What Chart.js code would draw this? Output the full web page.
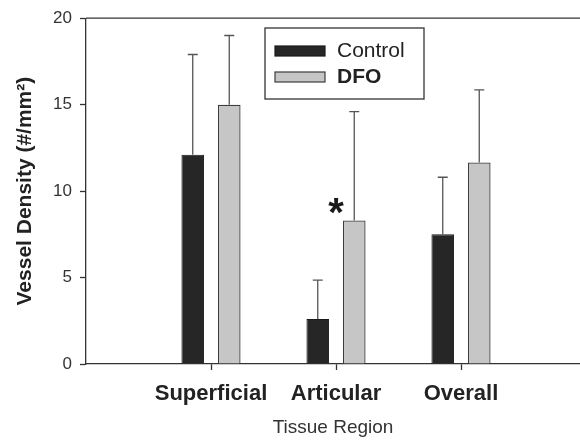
<!DOCTYPE html>
<html><head><meta charset="utf-8">
<script src="https://cdn.jsdelivr.net/npm/chart.js@4.4.1/dist/chart.umd.min.js"></script>
<style>html,body{margin:0;padding:0;background:#fff}</style>
</head><body>
<canvas id="c" width="580" height="440"></canvas>
<script>
// ---- data ----
const categories = ['Superficial', 'Articular', 'Overall'];
const seriesNames = ['Control', 'DFO'];
const controlMean = [12.1, 2.6, 7.5];
const controlSD = [5.8, 2.25, 3.3];
const dfoMean = [15.0, 8.3, 11.65];
const dfoSD = [4.0, 6.3, 4.2];
const yTicks = [0, 5, 10, 15, 20];
const significance = [{ category: 'Articular', value: 9.3, text: '*' }];

// ---- build ----
const positions = categories.map((c, i) => i + 1);
const toPoints = arr => arr.map((v, i) => ({ x: positions[i], y: v }));
const FONT = 'Liberation Sans, Arial, Helvetica, sans-serif';
const AXIS = '#333333';
Chart.defaults.font.family = FONT;
Chart.defaults.color = '#2a2a2a';

const errorBars = {
  id: 'errorBars',
  afterDatasetsDraw(chart) {
    const ctx = chart.ctx, y = chart.scales.y;
    const sds = [controlSD, dfoSD];
    ctx.save();
    ctx.strokeStyle = '#555555';
    ctx.lineWidth = 1.3;
    chart.data.datasets.forEach((ds, di) => {
      const meta = chart.getDatasetMeta(di);
      meta.data.forEach((bar, i) => {
        const v = ds.data[i].y;
        const top = y.getPixelForValue(v + sds[di][i]);
        ctx.beginPath();
        ctx.moveTo(bar.x, bar.y);
        ctx.lineTo(bar.x, top);
        ctx.moveTo(bar.x - 5, top);
        ctx.lineTo(bar.x + 5, top);
        ctx.stroke();
      });
    });
    ctx.fillStyle = '#1a1a1a';
    ctx.font = 'bold 40px ' + FONT;
    ctx.textAlign = 'center';
    ctx.textBaseline = 'alphabetic';
    significance.forEach(s => {
      const x = chart.scales.x.getPixelForValue(positions[categories.indexOf(s.category)]);
      const yy = y.getPixelForValue(s.value);
      ctx.fillText(s.text, x, yy + 0.57 * 40);
    });
    ctx.restore();
  }
};

const frameAndLegend = {
  id: 'frameAndLegend',
  afterDraw(chart) {
    const ctx = chart.ctx, a = chart.chartArea;
    ctx.save();
    ctx.strokeStyle = AXIS;
    ctx.lineWidth = 1.3;
    ctx.beginPath();
    ctx.moveTo(a.left, a.top);
    ctx.lineTo(a.right, a.top);
    ctx.stroke();
    const bx = 265, by = 28, bw = 159, bh = 71;
    ctx.fillStyle = '#ffffff';
    ctx.fillRect(bx, by, bw, bh);
    ctx.strokeRect(bx, by, bw, bh);
    const weights = ['normal', 'bold'];
    chart.data.datasets.forEach((ds, i) => {
      const sy = 46 + i * 26;
      ctx.fillStyle = ds.backgroundColor;
      ctx.fillRect(275, sy, 50, 10);
      ctx.strokeStyle = ds.borderColor;
      ctx.lineWidth = 1.2;
      ctx.strokeRect(275, sy, 50, 10);
      ctx.fillStyle = '#222222';
      ctx.font = weights[i] + ' 21px ' + FONT;
      ctx.textAlign = 'left';
      ctx.textBaseline = 'middle';
      ctx.fillText(ds.label, 337, sy + 5.5);
    });
    ctx.restore();
  }
};

new Chart(document.getElementById('c'), {
  type: 'bar',
  data: {
    datasets: [
      { label: seriesNames[0], data: toPoints(controlMean), backgroundColor: '#262626', borderColor: '#1a1a1a', borderWidth: 1 },
      { label: seriesNames[1], data: toPoints(dfoMean), backgroundColor: '#c6c6c6', borderColor: '#3c3c3c', borderWidth: 1.3 }
    ]
  },
  options: {
    responsive: false,
    animation: false,
    devicePixelRatio: 1,
    categoryPercentage: 0.584,
    barPercentage: 0.62,
    layout: { padding: { top: 18, right: 0, bottom: 0, left: 0 } },
    plugins: { legend: { display: false }, tooltip: { enabled: false } },
    scales: {
      x: {
        type: 'linear',
        min: 0, max: 3.952,
        offset: false,
        afterBuildTicks: s => { s.ticks = positions.map(v => ({ value: v })); },
        grid: { drawOnChartArea: false, drawTicks: true, tickLength: 6, tickColor: AXIS, tickWidth: 1.3, offset: false },
        border: { display: true, color: AXIS, width: 1.3 },
        ticks: {
          padding: 11, font: { size: 22, weight: 'bold' }, color: '#222', maxRotation: 0, autoSkip: false,
          callback: v => categories[positions.indexOf(v)]
        },
        title: { display: true, text: 'Tissue Region', font: { size: 19 }, color: '#333', padding: { top: 11, bottom: 1 } },
        afterFit: s => { s.height = 76; s.paddingLeft = 0; s.paddingRight = 0; }
      },
      y: {
        min: 0, max: 20,
        afterBuildTicks: s => { s.ticks = yTicks.map(v => ({ value: v })); },
        grid: { drawOnChartArea: false, drawTicks: true, tickLength: 6, tickColor: AXIS, tickWidth: 1.3 },
        border: { display: true, color: AXIS, width: 1.3 },
        ticks: { padding: 8, font: { size: 17 }, color: '#333' },
        title: { display: true, text: 'Vessel Density (#/mm²)', font: { size: 21, weight: 'bold' }, color: '#222', padding: { top: 13, bottom: 0 } },
        afterFit: s => { s.width = 86; }
      }
    }
  },
  plugins: [errorBars, frameAndLegend]
});
</script>
</body></html>
